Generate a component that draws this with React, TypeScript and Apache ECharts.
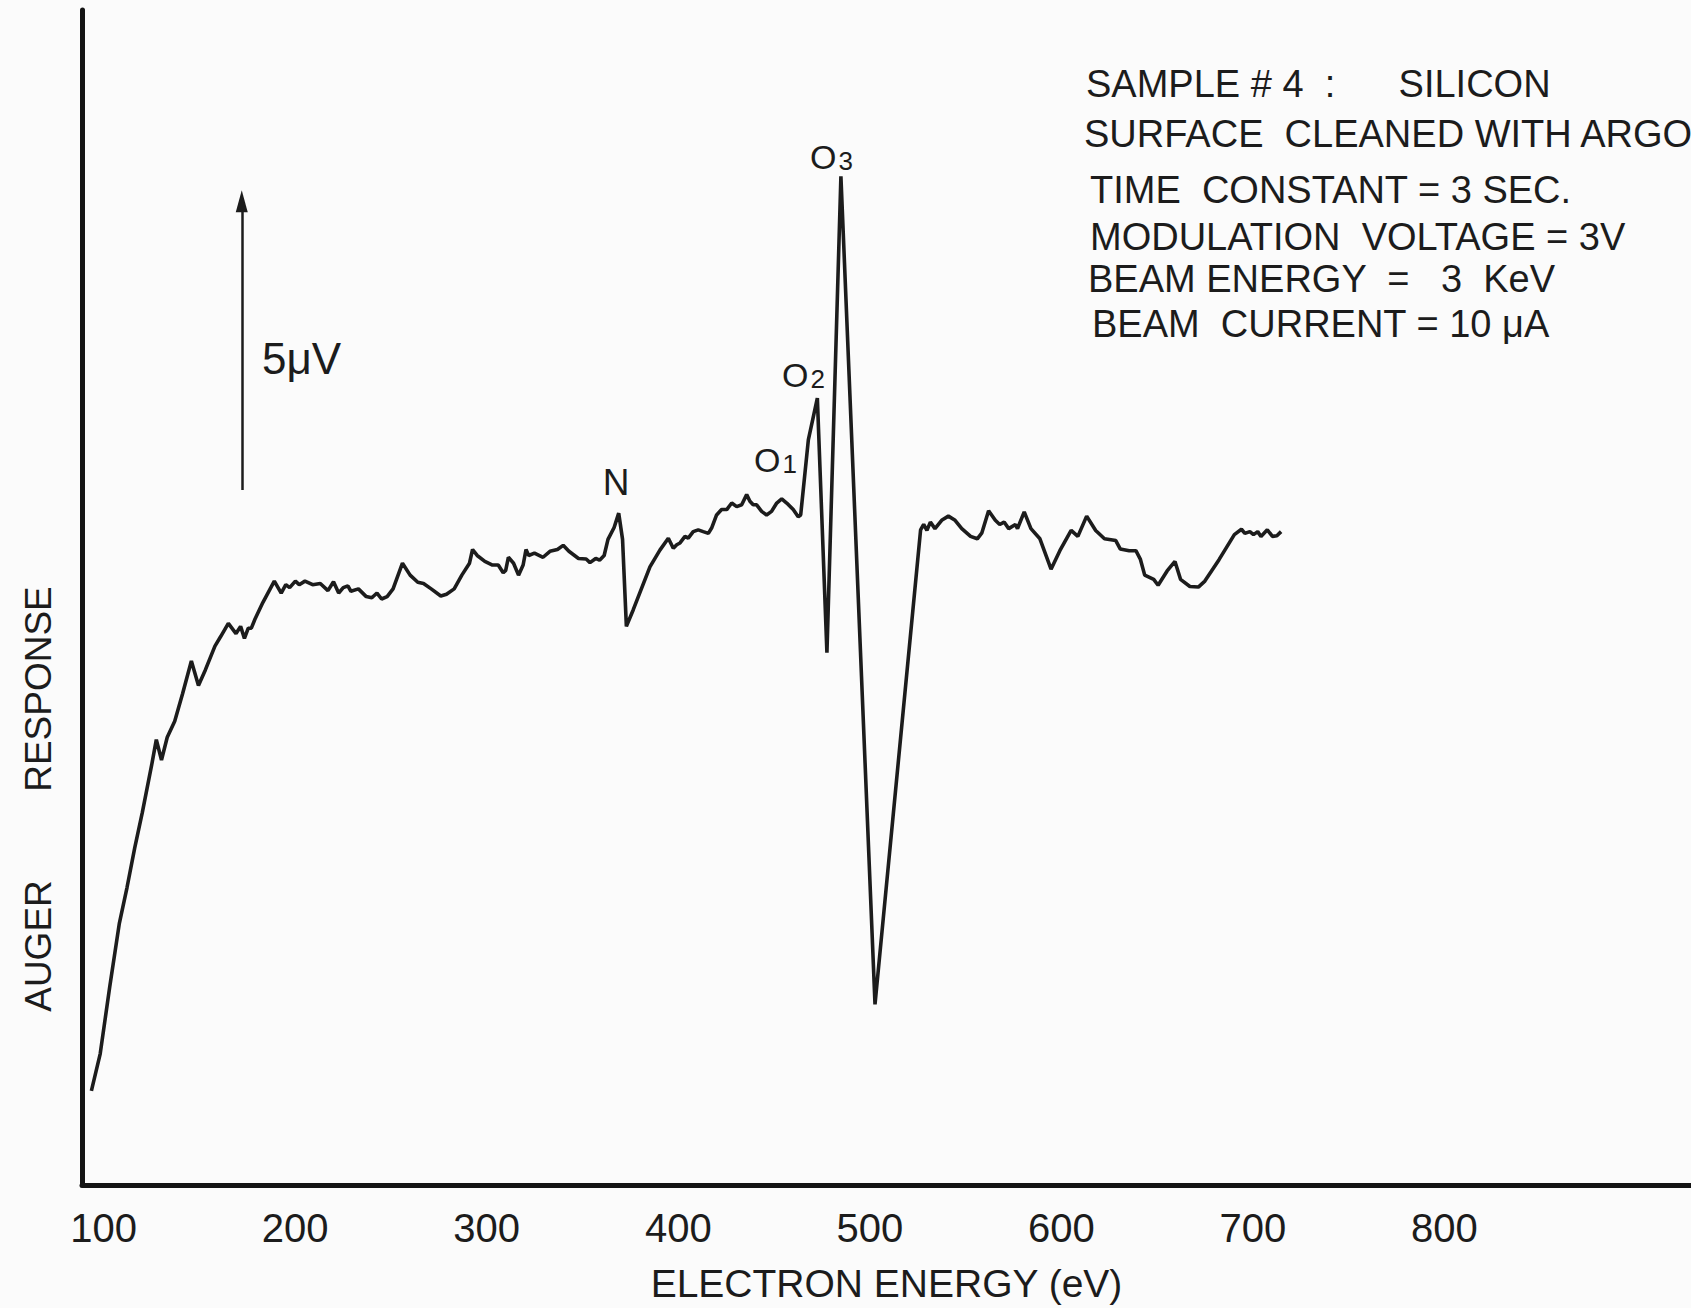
import React, { useEffect, useRef } from "react";
import * as echarts from "echarts";

// Electron energy (eV) of traced points
const energy = [
  93.6, 98.2, 103.2, 108.2, 112.2, 116.2, 120.2, 125.1, 127.5, 130.2,
  133.2, 137.1, 141.2, 145.8, 149.5, 153.1, 158.1, 161.1, 165.1, 169.1,
  171.5, 173.5, 175.5, 177.1, 179.1, 183.1, 189.1, 192.7, 195.1, 197.1,
  200.1, 202.1, 205.1, 209.1, 213.1, 217.1, 220.0, 222.7, 225.1, 227.5,
  229.1, 233.0, 237.1, 240.0, 242.7, 245.1, 248.0, 251.1, 256.0, 260.0,
  264.0, 267.0, 271.0, 276.0, 279.0, 283.0, 287.0, 291.0, 292.6, 295.0,
  299.0, 303.0, 306.0, 308.6, 309.9, 311.3, 314.0, 316.6, 319.0, 320.5,
  321.9, 324.9, 329.4, 333.0, 336.9, 339.9, 342.9, 347.9, 351.9, 353.9,
  356.9, 358.9, 361.3, 363.3, 366.5, 368.9, 370.9, 372.9, 376.5, 385.2,
  390.4, 394.8, 397.4, 399.2, 400.9, 403.5, 405.2, 407.8, 410.4, 413.0,
  415.7, 417.4, 420.0, 422.6, 425.3, 427.9, 430.5, 433.1, 435.7, 437.4,
  439.1, 440.9, 443.5, 446.1, 448.7, 451.4, 454.0, 456.6, 460.0, 462.6,
  463.9, 467.9, 472.6, 477.6, 484.9, 502.7, 526.5, 528.1, 529.8, 531.6,
  534.0, 537.5, 541.0, 544.5, 548.0, 552.6, 556.1, 558.5, 562.0, 565.5,
  567.8, 570.1, 572.5, 576.0, 577.1, 580.6, 584.1, 588.8, 594.6, 599.2,
  605.1, 608.6, 613.2, 617.9, 622.5, 628.4, 630.7, 635.4, 638.9, 641.2,
  643.5, 648.2, 650.5, 655.2, 659.3, 662.2, 667.1, 671.5, 674.9, 682.3,
  690.3, 694.0, 695.8, 698.4, 700.3, 702.5, 704.2, 707.5, 710.2, 712.5, 714.7,
];

// Auger response (μV, arbitrary zero) at each energy
const response = [
  1.58, 2.2, 3.33, 4.39, 4.99, 5.65, 6.25, 7.05, 7.47, 7.13,
  7.51, 7.78, 8.24, 8.79, 8.38, 8.64, 9.04, 9.2, 9.42, 9.25,
  9.37, 9.17, 9.34, 9.34, 9.5, 9.77, 10.13, 9.93, 10.07, 10.02,
  10.13, 10.07, 10.13, 10.07, 10.09, 9.97, 10.12, 9.93, 10.02, 10.05,
  9.96, 10.0, 9.87, 9.85, 9.93, 9.83, 9.87, 10.0, 10.43, 10.23,
  10.11, 10.09, 10.0, 9.88, 9.91, 10.0, 10.23, 10.43, 10.66, 10.56,
  10.46, 10.4, 10.4, 10.27, 10.31, 10.53, 10.43, 10.23, 10.4, 10.66,
  10.56, 10.6, 10.53, 10.63, 10.66, 10.73, 10.63, 10.51, 10.5, 10.44,
  10.51, 10.48, 10.56, 10.83, 11.03, 11.27, 10.83, 9.37, 9.65, 10.37,
  10.65, 10.85, 10.68, 10.74, 10.77, 10.88, 10.85, 10.96, 10.99, 10.96,
  10.93, 11.02, 11.24, 11.33, 11.33, 11.44, 11.38, 11.41, 11.58, 11.47,
  11.41, 11.41, 11.3, 11.24, 11.3, 11.44, 11.51, 11.44, 11.33, 11.21,
  11.24, 12.5, 13.2, 8.93, 16.92, 3.03, 10.99, 11.08, 10.98, 11.12,
  11.01, 11.15, 11.22, 11.15, 11.01, 10.88, 10.84, 10.94, 11.31, 11.15,
  11.08, 11.12, 11.01, 11.08, 11.01, 11.29, 11.01, 10.84, 10.33, 10.64,
  10.98, 10.88, 11.22, 10.98, 10.84, 10.81, 10.67, 10.64, 10.64, 10.5,
  10.23, 10.16, 10.06, 10.3, 10.46, 10.16, 10.04, 10.03, 10.13, 10.49,
  10.91, 11.0, 10.93, 10.96, 10.91, 10.96, 10.88, 10.99, 10.88, 10.89, 10.96,
];

const xTickLabels = [100, 200, 300, 400, 500, 600, 700, 800];

// 5 μV scale arrow (energy position, from / to response)
const scaleArrowEnergy = 172.1;
const scaleArrowFrom = 11.66;
const scaleArrowTo = 16.5;
const scaleArrowText = "5μV";

const infoLines = [
  "SAMPLE # 4  :      SILICON",
  "SURFACE  CLEANED WITH ARGON",
  "TIME  CONSTANT = 3 SEC.",
  "MODULATION  VOLTAGE = 3V",
  "BEAM ENERGY  =   3  KeV",
  "BEAM  CURRENT = 10 μA",
];

const FONT = '"Liberation Sans", Arial, sans-serif';
const INK = "#1c1c1c";

export default function App() {
  const ref = useRef<HTMLDivElement>(null);

  useEffect(() => {
    const chart = echarts.init(ref.current!, null, { renderer: "svg" });

    const infoX = [1086, 1084, 1090, 1090, 1088, 1092];
    const infoY = [84, 134, 190, 237, 279, 324];

    const graphic: any[] = [];
    infoLines.forEach((t, i) => {
      graphic.push({
        type: "text",
        x: infoX[i],
        y: infoY[i],
        silent: true,
        style: {
          text: t,
          fontSize: 38,
          fontFamily: FONT,
          fill: INK,
          align: "left",
          verticalAlign: "middle",
          textAlign: "left",
          textVerticalAlign: "middle",
        },
      });
    });

    const axisTitle = (text: string, x: number, y: number) => ({
      type: "text",
      x,
      y,
      rotation: Math.PI / 2,
      silent: true,
      style: {
        text,
        fontSize: 37,
        fontFamily: FONT,
        fill: INK,
        align: "center",
        verticalAlign: "middle",
        textAlign: "center",
        textVerticalAlign: "middle",
      },
    });
    graphic.push(axisTitle("AUGER", 38, 946));
    graphic.push(axisTitle("RESPONSE", 38, 689));

    graphic.push({
      type: "text",
      x: 262,
      y: 358,
      silent: true,
      style: {
        text: scaleArrowText,
        fontSize: 44,
        fontFamily: FONT,
        fill: INK,
        align: "left",
        verticalAlign: "middle",
        textAlign: "left",
        textVerticalAlign: "middle",
      },
    });

    graphic.push({
      type: "text",
      x: 616,
      y: 482,
      silent: true,
      style: {
        text: "N",
        fontSize: 37,
        fontFamily: FONT,
        fill: INK,
        align: "center",
        verticalAlign: "middle",
        textAlign: "center",
        textVerticalAlign: "middle",
      },
    });

    const peakLabel = (sub: string, x: number, y: number) => ({
      type: "text",
      x,
      y,
      silent: true,
      style: {
        text: `{o|O}{s|${sub}}`,
        font: `34px ${FONT}`,
        fontSize: 34,
        fontFamily: FONT,
        fill: INK,
        align: "left",
        verticalAlign: "bottom",
        textAlign: "left",
        textVerticalAlign: "bottom",
        rich: {
          o: { font: `34px ${FONT}`, fontSize: 34, fontFamily: FONT, fill: INK, verticalAlign: "bottom" },
          s: { font: `26px ${FONT}`, fontSize: 26, fontFamily: FONT, fill: INK, verticalAlign: "bottom", padding: [0, 0, 0, 2] },
        },
      },
    });
    graphic.push(peakLabel("1", 754, 477));
    graphic.push(peakLabel("2", 782, 392));
    graphic.push(peakLabel("3", 810, 174));

    chart.setOption({
      animation: false,
      backgroundColor: "#fbfbfb",
      grid: {
        left: 82,
        right: 0,
        top: 10,
        bottom: 123,
        containLabel: false,
        outerBoundsMode: "none",
      },
      xAxis: {
        type: "value",
        min: 88.7,
        max: 928.7,
        splitLine: { show: false },
        axisTick: { show: false },
        axisLine: { show: true, onZero: false, lineStyle: { color: "#141414", width: 5 } },
        axisLabel: {
          customValues: xTickLabels,
          margin: 23,
          fontSize: 40,
          fontFamily: FONT,
          color: INK,
          formatter: (v: number) => (xTickLabels.includes(v) ? String(v) : ""),
        },
        name: "ELECTRON ENERGY (eV)",
        nameLocation: "middle",
        nameGap: 79,
        nameTextStyle: { fontSize: 39, fontFamily: FONT, color: INK },
      },
      yAxis: {
        type: "value",
        min: 0,
        max: 19.71,
        splitLine: { show: false },
        axisTick: { show: false },
        axisLabel: { show: false },
        axisLine: { show: true, onZero: false, lineStyle: { color: "#141414", width: 5 } },
      },
      series: [
        {
          type: "line",
          data: energy.map((e, i) => [e, response[i]]),
          showSymbol: false,
          symbol: "none",
          lineStyle: { color: INK, width: 3.6 },
          silent: true,
          markLine: {
            silent: true,
            animation: false,
            label: { show: false },
            lineStyle: { color: INK, width: 2.5, type: "solid" },
            data: [
              [
                { coord: [scaleArrowEnergy, scaleArrowFrom], symbol: "none" },
                { coord: [scaleArrowEnergy, scaleArrowTo], symbol: "triangle", symbolSize: [12, 22] },
              ],
            ],
          },
        },
      ],
      graphic,
    });

    return () => chart.dispose();
  }, []);

  return (
    <div
      ref={ref}
      style={{ position: "absolute", left: 0, top: 0, width: 1691, height: 1308, background: "#fbfbfb" }}
    />
  );
}
